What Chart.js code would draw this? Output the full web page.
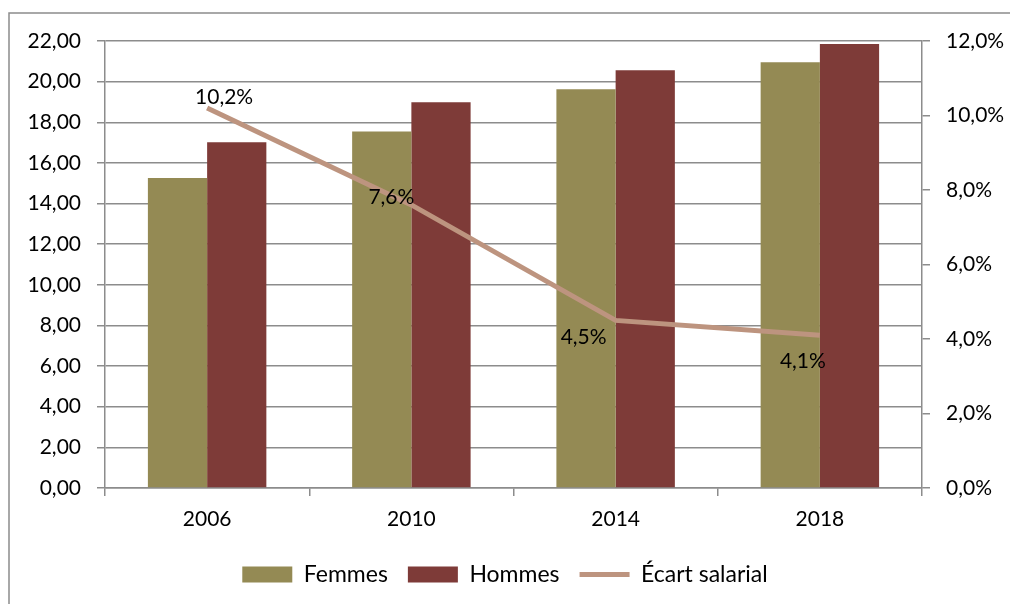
<!DOCTYPE html>
<html>
<head>
<meta charset="utf-8">
<script src="https://cdn.jsdelivr.net/npm/chart.js@4/dist/chart.umd.min.js"></script>
<style>
html,body{margin:0;padding:0;background:#fff;}
#wrap{width:1010px;height:604px;position:relative;}
</style>
</head>
<body>
<div id="wrap"><canvas id="c" width="1010" height="604"></canvas></div>
<script>
const categories = ['2006', '2010', '2014', '2018'];
const femmes = [15.26, 17.55, 19.63, 20.95];
const hommes = [17.02, 18.98, 20.56, 21.85];
const ecart = [10.2, 7.6, 4.5, 4.1];
const seriesNames = ['Femmes', 'Hommes', 'Écart salarial'];

const FONT = 'Lato, "Open Sans", sans-serif';
const FS = 21;
const GRID = '#8c8c8c';
const labelOffsets = [[17, -11], [-20, -8], [-32, 17], [-17, 26]];

const frPct = v => v.toFixed(1).replace('.', ',') + '%';

const borderPlugin = {
  id: 'outerBorder',
  beforeDraw(chart) {
    const ctx = chart.ctx;
    ctx.save();
    ctx.strokeStyle = '#8c8c8c';
    ctx.lineWidth = 1.5;
    ctx.strokeRect(9, 13, 1100, 700);
    ctx.restore();
  }
};

const labelPlugin = {
  id: 'lineLabels',
  afterDatasetsDraw(chart) {
    const meta = chart.getDatasetMeta(2);
    const ctx = chart.ctx;
    ctx.save();
    ctx.font = FS + 'px ' + FONT;
    ctx.fillStyle = '#000';
    ctx.textAlign = 'center';
    ctx.textBaseline = 'middle';
    meta.data.forEach((pt, i) => {
      const o = labelOffsets[i];
      ctx.fillText(frPct(chart.data.datasets[2].data[i]), pt.x + o[0], pt.y + o[1]);
    });
    ctx.restore();
  }
};

new Chart(document.getElementById('c'), {
  data: {
    labels: categories,
    datasets: [
      { type: 'bar', label: seriesNames[0], data: femmes, backgroundColor: '#948A54', yAxisID: 'y', order: 1, pointStyle: 'rect',
        categoryPercentage: 0.58, barPercentage: 1.0 },
      { type: 'bar', label: seriesNames[1], data: hommes, backgroundColor: '#7E3B38', yAxisID: 'y', order: 1, pointStyle: 'rect',
        categoryPercentage: 0.58, barPercentage: 1.0 },
      { type: 'line', label: seriesNames[2], data: ecart, borderColor: '#BD947F', backgroundColor: '#BD947F', borderWidth: 5,
        pointRadius: 0, pointHoverRadius: 0, yAxisID: 'y1', order: 0, pointStyle: 'line', tension: 0 }
    ]
  },
  options: {
    responsive: false,
    animation: false,
    events: [],
    layout: { padding: { top: 41, bottom: 8, left: 0, right: 0 } },
    plugins: {
      tooltip: { enabled: false },
      legend: {
        position: 'bottom',
        labels: {
          sort: (a, b) => a.datasetIndex - b.datasetIndex,
          usePointStyle: true,
          pointStyleWidth: 50,
          boxHeight: 16,
          padding: 20,
          color: '#000',
          font: { family: FONT, size: 23 }
        }
      }
    },
    scales: {
      x: {
        offset: true,
        grid: { offset: true, drawOnChartArea: false, drawTicks: true, tickLength: 8, color: GRID, lineWidth: 1.5 },
        border: { color: GRID, width: 1.5 },
        ticks: { color: '#000', font: { family: FONT, size: FS }, padding: 11 },
        afterFit(s) { s.height = 55; }
      },
      y: {
        position: 'left',
        min: 0, max: 22,
        ticks: { stepSize: 2, color: '#000', font: { family: FONT, size: FS }, padding: 16,
          callback: v => v.toFixed(2).replace('.', ',') },
        grid: { color: GRID, lineWidth: 1.5, tickLength: 8 },
        border: { color: GRID, width: 1.5 },
        afterFit(s) { s.width = 105; }
      },
      y1: {
        position: 'right',
        min: 0, max: 12,
        ticks: { stepSize: 2, color: '#000', font: { family: FONT, size: FS }, padding: 16,
          callback: v => frPct(v) },
        grid: { drawOnChartArea: false, color: GRID, lineWidth: 1.5, tickLength: 8 },
        border: { color: GRID, width: 1.5 },
        afterFit(s) { s.width = 88; }
      }
    }
  },
  plugins: [borderPlugin, labelPlugin]
});
</script>
</body>
</html>
